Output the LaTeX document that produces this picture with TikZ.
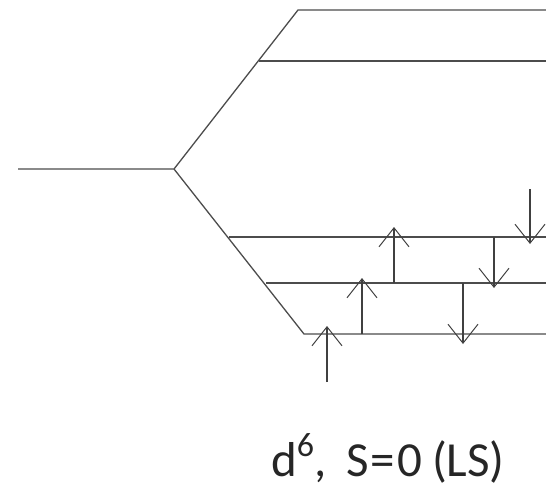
\documentclass[tikz,border=0pt]{standalone}
\usepackage{fontspec}
\setmainfont{Carlito}
\usetikzlibrary{arrows.meta}
\begin{document}
\begin{tikzpicture}[x=1pt,y=-1pt,
  level/.style={draw=black!70,line width=1.3pt},
  spin/.style={draw=black!75,line width=1.1pt,-{Straight Barb[length=19pt,width=30pt,line width=1pt]}}]
\useasboundingbox (0,0) rectangle (546,491);
% coordinates
\coordinate (L0) at (18,169);
\coordinate (C) at (174,169);
\coordinate (T1a) at (298,10);   \coordinate (T1b) at (546,10);
\coordinate (T2a) at (259,61);   \coordinate (T2b) at (546,61);
\coordinate (B1a) at (229,237);  \coordinate (B1b) at (546,237);
\coordinate (B2a) at (266,283);  \coordinate (B2b) at (546,283);
\coordinate (B3a) at (304,334);  \coordinate (B3b) at (546,334);
% levels
\draw[level] (L0) -- (C) -- (T1a) -- (T1b);
\draw[level] (T2a) -- (T2b);
\draw[level] (C) -- (B3a) -- (B3b);
\draw[level] (B1a) -- (B1b);
\draw[level] (B2a) -- (B2b);
% spins
\coordinate (u1s) at (327,382); \coordinate (u1e) at (327,326);
\coordinate (u2s) at (362,334); \coordinate (u2e) at (362,278);
\coordinate (u3s) at (394,283); \coordinate (u3e) at (394,227);
\coordinate (d1s) at (463,283); \coordinate (d1e) at (463,344);
\coordinate (d2s) at (494,237); \coordinate (d2e) at (494,288);
\coordinate (d3s) at (530,189); \coordinate (d3e) at (530,244);
\draw[spin] (u1s) -- (u1e);
\draw[spin] (u2s) -- (u2e);
\draw[spin] (u3s) -- (u3e);
\draw[spin] (d1s) -- (d1e);
\draw[spin] (d2s) -- (d2e);
\draw[spin] (d3s) -- (d3e);
\node[anchor=base,font=\fontsize{49}{54}\selectfont,text=black!85,inner sep=0pt] (lab) at (388,476)
  {d\raisebox{20pt}{\fontsize{34}{34}\selectfont 6},\hspace{20pt}S\hspace{2pt}=\hspace{2pt}0\hspace{10pt}(LS)};
\end{tikzpicture}
\end{document}
